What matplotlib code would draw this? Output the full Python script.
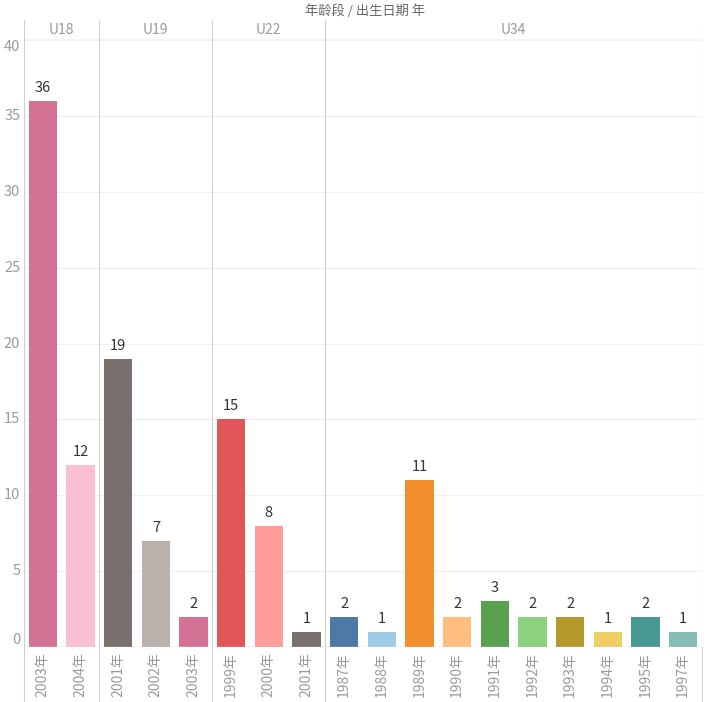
import matplotlib.pyplot as plt
import numpy as np

plt.rcParams['font.family'] = ['Noto Sans CJK SC', 'DejaVu Sans']

groups = ['U18', 'U19', 'U22', 'U34']
group_years = [
    ['2003年', '2004年'],
    ['2001年', '2002年', '2003年'],
    ['1999年', '2000年', '2001年'],
    ['1987年', '1988年', '1989年', '1990年', '1991年', '1992年',
     '1993年', '1994年', '1995年', '1997年'],
]
group_counts = [
    [36, 12],
    [19, 7, 2],
    [15, 8, 1],
    [2, 1, 11, 2, 3, 2, 2, 1, 2, 1],
]
group_colors = [
    ['#D37295', '#FABFD2'],
    ['#79706E', '#BAB0AC', '#D37295'],
    ['#E15759', '#FF9D9A', '#79706E'],
    ['#4E79A7', '#A0CBE8', '#F28E2B', '#FFBE7D', '#59A14F', '#8CD17D',
     '#B6992D', '#F1CE63', '#499894', '#86BCB6'],
]

years = [y for g in group_years for y in g]
counts = [c for g in group_counts for c in g]
colors = [c for g in group_colors for c in g]
x = np.arange(len(counts))

W, H = 720, 702
fig = plt.figure(figsize=(W / 100, H / 100), dpi=100)
left, right, top, bottom = 24, 702, 40, 647
ax = fig.add_axes([left / W, (H - bottom) / H, (right - left) / W, (bottom - top) / H])

gray = '#9a9a9a'
line = '#d0d0d0'

ax.bar(x, counts, width=0.75, color=colors, zorder=2)
for xi, c in zip(x, counts):
    ax.text(xi, c + 0.4, str(c), ha='center', va='bottom', fontsize=10.5, color='#333333')

ax.set_xlim(-0.5, len(counts) - 0.5)
ax.set_ylim(0, 40)
ax.set_yticks(range(0, 41, 5))
ax.set_yticklabels([])
for v in range(0, 41, 5):
    ax.axhline(v, color='#f0f0f0', lw=0.8, zorder=0)
    yy = v
    va = 'center'
    if v == 0:
        va = 'bottom'
    if v == 40:
        va = 'top'
    ax.text(-0.6, yy, str(v), ha='right', va=va, fontsize=10.5, color=gray,
            transform=ax.transData, clip_on=False)
ax.tick_params(axis='both', length=0)
ax.set_xticks(x)
ax.set_xticklabels(years, rotation=90, fontsize=10, color=gray)
for s in ax.spines.values():
    s.set_visible(False)
ax.axhline(0, color=line, lw=1, zorder=3)

# panel header band
hdr = fig.add_axes([left / W, (H - top) / H, (right - left) / W, 20 / H])
hdr.set_xlim(-0.5, len(counts) - 0.5)
hdr.set_ylim(0, 1)
hdr.axis('off')
hdr.axhline(0, color=line, lw=1)

start = 0
bounds = [-0.5]
for g, yrs in zip(groups, group_years):
    end = start + len(yrs)
    hdr.text((start + end - 1) / 2, 0.5, g, ha='center', va='center', fontsize=10, color=gray)
    bounds.append(end - 0.5)
    start = end

for b in bounds:
    ax.axvline(b, color=line, lw=0.8, zorder=1)
    hdr.axvline(b, color=line, lw=0.8)
    ax.plot([b, b], [0, -0.1], transform=ax.get_xaxis_transform(), color=line,
            lw=0.8, clip_on=False)

fig.text(365 / W, 1 - 11 / H, '年龄段 / 出生日期 年', ha='center', va='center',
         fontsize=9.5, color='#666666')

fig.savefig('out.png', dpi=100)
